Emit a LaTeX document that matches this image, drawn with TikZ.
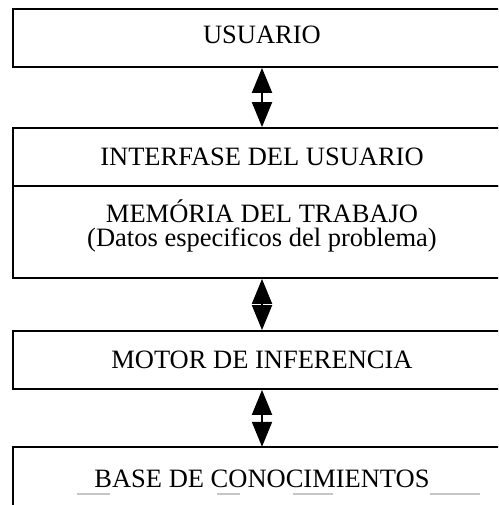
\documentclass[tikz,border=0pt]{standalone}
\usepackage{fontspec}
\setmainfont{Liberation Serif}
\usetikzlibrary{arrows.meta}
\begin{document}
\begin{tikzpicture}[x=1pt,y=-1pt,
  box/.style={draw, line width=1.8pt, minimum width=498pt, inner sep=0pt},
  lbl/.style={font=\fontsize{26.5}{28}\selectfont},
  biarrow/.style={line width=2pt, {Triangle[width=20pt,length=25pt]}-{Triangle[width=20pt,length=25pt]}}]
\useasboundingbox (0,0) rectangle (498,505);
\clip (0,0) rectangle (498,505);
% boxes
\node[box, minimum height=58pt] (usuario) at (262,38) {};
\node[box, minimum height=58pt] (interfase) at (262,157) {};
\node[box, minimum height=92pt] (memoria) at (262,232) {};
\node[box, minimum height=58pt] (motor) at (262,360) {};
\node[minimum width=498pt, minimum height=62pt, inner sep=0pt] (base) at (262,478) {};
\draw[line width=1.8pt] (base.south west) -- (base.north west) -- (base.north east);
% faint broken bottom line of the last box
\draw[gray!45, line width=1.2pt] (77,494) -- (110,494) (217,494) -- (240,494) (293,494) -- (333,494) (430,494) -- (480,494);
% texts
\node[lbl, anchor=base] (t1) at (262,44) {USUARIO};
\node[lbl, anchor=base] (t2) at (262,165) {INTERFASE DEL USUARIO};
\node[lbl, anchor=base] (t3) at (262,222) {MEMÓRIA DEL TRABAJO};
\node[lbl, anchor=base] (t4) at (262,246) {(Datos especificos del problema)};
\node[lbl, anchor=base] (t5) at (262,368) {MOTOR DE INFERENCIA};
\node[lbl, anchor=base] (t6) at (262,487) {BASE DE CONOCIMIENTOS};
% connectors
\draw[biarrow] (usuario.south) -- (interfase.north);
\draw[biarrow] (memoria.south) -- (motor.north);
\draw[biarrow] (motor.south) -- (base.north);
\end{tikzpicture}
\end{document}
